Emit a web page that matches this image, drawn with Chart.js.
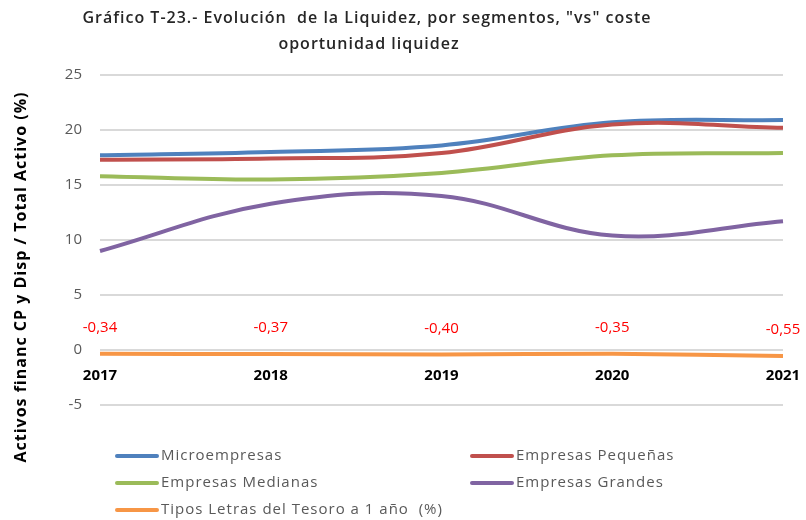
<!DOCTYPE html>
<html><head><meta charset="utf-8">
<script src="https://cdn.jsdelivr.net/npm/chart.js@4"></script>
<style>html,body{margin:0;padding:0;background:#fff}#wrap{width:806px;height:520px;position:relative}</style>
</head><body><div id="wrap"><canvas id="c" width="806" height="520"></canvas></div>
<script>
const categories = ['2017', '2018', '2019', '2020', '2021'];
const microempresas = [17.7, 18.0, 18.6, 20.7, 20.9];
const pequenas = [17.3, 17.4, 17.9, 20.5, 20.2];
const medianas = [15.8, 15.5, 16.1, 17.7, 17.9];
const grandes = [9.0, 13.3, 14.0, 10.4, 11.7];
const letras = [-0.34, -0.37, -0.40, -0.35, -0.55];
const seriesNames = ['Microempresas', 'Empresas Pequeñas', 'Empresas Medianas', 'Empresas Grandes', 'Tipos Letras del Tesoro a 1 año  (%)'];
const seriesColors = ['#4F81BD', '#C0504D', '#9BBB59', '#8064A2', '#F79646'];
const yMin = -5, yMax = 25, yStep = 5;
const titleLines = ['Gráfico T-23.- Evolución  de la Liquidez, por segmentos, "vs" coste', 'oportunidad liquidez'];
const yTitle = 'Activos financ CP y Disp / Total Activo (%)';

const FONT = '"Open Sans", "DejaVu Sans", sans-serif';
const seriesData = [microempresas, pequenas, medianas, grandes, letras];

const decor = {
  id: 'decor',
  afterDraw(chart) {
    const ctx = chart.ctx;
    const ca = chart.chartArea;
    ctx.save();
    // Title
    ctx.fillStyle = '#262626';
    ctx.font = '600 16px ' + FONT;
    ctx.letterSpacing = '1px';
    ctx.textAlign = 'center';
    ctx.textBaseline = 'middle';
    ctx.fillText(titleLines[0], 367, 18);
    ctx.fillText(titleLines[1], 369, 44);
    // Y axis title
    ctx.save();
    ctx.translate(21, 277);
    ctx.rotate(-Math.PI / 2);
    ctx.fillStyle = '#000';
    ctx.font = 'bold 16px ' + FONT;
    ctx.letterSpacing = '1px';
    ctx.fillText(yTitle, 0, 0);
    ctx.restore();
    // Data labels for letras
    ctx.letterSpacing = '0px';
    const meta = chart.getDatasetMeta(4);
    ctx.fillStyle = '#FF0000';
    ctx.font = '15px ' + FONT;
    meta.data.forEach((pt, i) => {
      const txt = letras[i].toFixed(2).replace('.', ',');
      ctx.fillText(txt, pt.x, pt.y - 26);
    });
    // Legend
    ctx.font = '15px ' + FONT;
    ctx.letterSpacing = '1px';
    ctx.textAlign = 'left';
    const cols = [ca.left + 17, ca.left + 372];
    const rows = [ca.bottom + 51, ca.bottom + 78, ca.bottom + 105];
    seriesNames.forEach((name, i) => {
      const x = cols[i % 2];
      const y = rows[Math.floor(i / 2)];
      ctx.strokeStyle = seriesColors[i];
      ctx.lineWidth = 4;
      ctx.lineCap = 'round';
      ctx.beginPath();
      ctx.moveTo(x, y);
      ctx.lineTo(x + 40, y);
      ctx.stroke();
      ctx.fillStyle = '#595959';
      ctx.fillText(name, x + 44, y);
    });
    ctx.restore();
  }
};

new Chart(document.getElementById('c'), {
  type: 'line',
  data: {
    labels: categories,
    datasets: seriesData.map((d, i) => ({
      label: seriesNames[i],
      data: d,
      borderColor: seriesColors[i],
      backgroundColor: seriesColors[i],
      borderWidth: 4,
      pointRadius: 0,
      tension: 0.38,
      fill: false,
      order: 5 - i
    }))
  },
  options: {
    responsive: false,
    animation: false,
    devicePixelRatio: 1,
    layout: { padding: { left: 0, top: 75, right: 23, bottom: 115 } },
    plugins: { legend: { display: false }, title: { display: false }, tooltip: { enabled: false } },
    scales: {
      x: {
        position: { y: 0 },
        offset: false,
        grid: { display: false, drawTicks: false },
        border: { display: false },
        ticks: {
          autoSkip: false, maxRotation: 0, padding: 17,
          color: '#000', font: { family: FONT, size: 15, weight: 'bold' }
        },
        afterFit(s) { s.height = 0; s.paddingLeft = 0; s.paddingRight = 0; }
      },
      y: {
        min: yMin, max: yMax,
        grid: { color: '#D9D9D9', lineWidth: 2, drawTicks: false },
        border: { display: false },
        ticks: {
          stepSize: yStep, padding: 18,
          color: '#595959', font: { family: FONT, size: 15 }
        },
        afterFit(s) { s.width = 100; s.paddingTop = 0; s.paddingBottom = 0; }
      }
    }
  },
  plugins: [decor]
});
</script>
</body></html>
